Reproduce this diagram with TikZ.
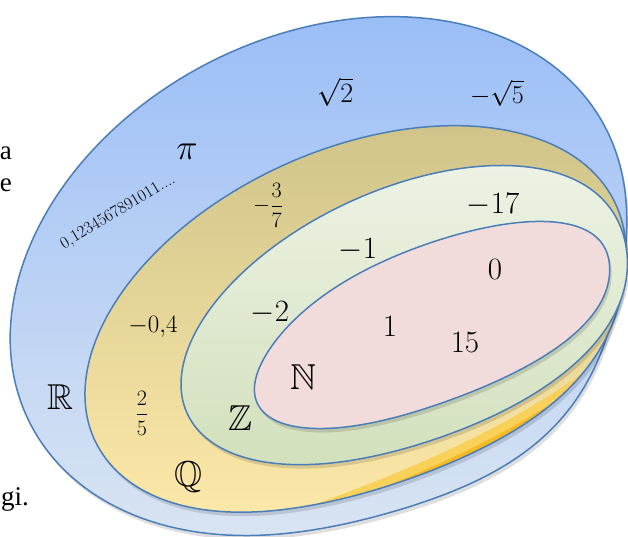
\RequirePackage{fix-cm}
\documentclass[tikz,border=0pt]{standalone}
\usepackage{amsmath,amssymb}
\usepackage{fontspec}
\newfontfamily\sidefont{Liberation Serif}
\definecolor{edge}{HTML}{4A7EBB}
\definecolor{rtop}{HTML}{9BBEF7}
\definecolor{rbot}{HTML}{D9E4F2}
\definecolor{qtop}{HTML}{D0C48A}
\definecolor{qbot}{HTML}{FCE8A8}
\definecolor{ztop}{HTML}{EDF2E4}
\definecolor{zbot}{HTML}{D2E0BC}
\definecolor{nfill}{HTML}{F2DCDB}
\definecolor{gold}{HTML}{F5BA1E}
\definecolor{goldlight}{HTML}{FAD66A}
\tikzset{
  declare function={bump(\t,\c,\w)=exp(-((\t-\c)/\w)*((\t-\c)/\w));},
  shape edge/.style={draw=edge, line width=1.5pt},
  shadowfill/.style={fill=black, opacity=0.13},
  lab/.style={inner sep=0pt, text=black},
  big/.style={lab, font=\fontsize{31}{31}\selectfont},
  mid/.style={lab, font=\fontsize{25}{25}\selectfont},
  frac/.style={lab, font=\fontsize{22}{22}\selectfont},
  setname/.style={lab, font=\fontsize{36}{36}\selectfont},
  side/.style={inner sep=0pt, anchor=base east, font=\sidefont\fontsize{27}{27}\selectfont}
}
% R: centre (318,276), a=323.6, b=239.7, angle 27.2
\def\Rp{plot[variable=\t, domain=-180:178, samples=180]
  ({318 + (1+0.1*bump(\t,68,25))*(323.6*cos(\t)*0.889 + 239.7*sin(\t)*0.457)},
   {276 + (1+0.1*bump(\t,68,25))*(-323.6*cos(\t)*0.457 + 239.7*sin(\t)*0.889)}) -- cycle}
% Q: centre (355,322), a=286, b=172.4, angle 24.3
\def\Qp{plot[variable=\t, domain=-180:178, samples=180]
  ({355 + (1+0.05*bump(\t,55,25)-0.05*bump(\t,105,35))*(286*cos(\t)*0.911 + 172.4*sin(\t)*0.412)},
   {322 + (1+0.05*bump(\t,55,25)-0.05*bump(\t,105,35))*(-286*cos(\t)*0.412 + 172.4*sin(\t)*0.911)}) -- cycle}
% Z: centre (400,315), a=234.5, b=123.8, angle 24.9
\def\Zp{plot[variable=\t, domain=-180:178, samples=180]
  ({400 + (1+0.12*bump(\t,55,35))*(234.5*cos(\t)*0.907 + 123.8*sin(\t)*0.421)},
   {315 + (1+0.12*bump(\t,55,35))*(-234.5*cos(\t)*0.421 + 123.8*sin(\t)*0.907)}) -- cycle}
% N: centre (430,325), a=189.6, b=74.6, angle 24.3
\def\Np{plot[variable=\t, domain=-180:178, samples=180]
  ({430 + (1+0.13*bump(\t,55,32)+0.05*bump(\t,-110,30))*(189.6*cos(\t)*0.911 + 74.6*sin(\t)*0.412)},
   {325 + (1+0.13*bump(\t,55,32)+0.05*bump(\t,-110,30))*(-189.6*cos(\t)*0.412 + 74.6*sin(\t)*0.911)}) -- cycle}
\begin{document}
\begin{tikzpicture}[x=1pt, y=-1pt]
\useasboundingbox (0,0) rectangle (628,537);
% R
\fill[shadowfill, shift={(2,4)}] \Rp;
\shade[top color=rtop, bottom color=rbot] \Rp;
\draw[shape edge] \Rp;
% Q
\fill[shadowfill, shift={(2,4)}] \Qp;
\shade[top color=qtop, bottom color=qbot] \Qp;
\begin{scope}
  \clip \Qp;
  \fill[gold] (300,510) .. controls (395,476) and (515,428) .. (600,360) -- (640,360) -- (640,540) -- (300,540) -- cycle;
  \fill[goldlight, opacity=0.8] (300,510) .. controls (395,476) and (515,428) .. (600,360) -- (640,360) -- (640,366) -- (603,366) .. controls (518,436) and (398,484) .. (300,518) -- cycle;
\end{scope}
\draw[shape edge] \Qp;
% Z
\fill[shadowfill, shift={(2,4)}] \Zp;
\shade[top color=ztop, bottom color=zbot] \Zp;
\draw[shape edge] \Zp;
% N
\fill[shadowfill, shift={(2,4)}] \Np;
\fill[nfill] \Np;
\draw[shape edge] \Np;
% labels
\node[lab, font=\fontsize{28}{28}\selectfont] (sqrt2) at (335,92) {$\sqrt{2}$};
\node[lab, font=\fontsize{26}{26}\selectfont] (msqrt5) at (497,93) {$-\sqrt{5}$};
\node[lab, font=\fontsize{36}{36}\selectfont] (pi) at (187,152) {$\pi$};
\node[lab, font=\fontsize{17}{17}\selectfont, rotate=31] (dec) at (118,212) {0,1234567891011....};
\node[frac] (m37) at (268,205) {$-\dfrac{3}{7}$};
\node[big] (m17) at (493,205) {$-17$};
\node[big] (m1) at (358,250) {$-1$};
\node[big] (zero) at (495,270) {$0$};
\node[big] (m2) at (270,313) {$-2$};
\node[big] (one) at (390,327) {$1$};
\node[big] (fifteen) at (465,343) {$15$};
\node[mid] (m04) at (153,327) {$-0{,}4$};
\node[frac] (f25) at (142,413) {$\dfrac{2}{5}$};
\node[setname] (RR) at (60,397) {$\mathbb{R}$};
\node[setname] (QQ) at (188,477) {$\mathbb{Q}$};
\node[setname] (ZZ) at (240,418) {$\mathbb{Z}$};
\node[setname] (NN) at (303,377) {$\mathbb{N}$};
\node[side] (ta) at (12,160) {a};
\node[side] (te) at (12,192) {e};
\node[side] (tgi) at (29,505) {gi.};
\end{tikzpicture}
\end{document}
